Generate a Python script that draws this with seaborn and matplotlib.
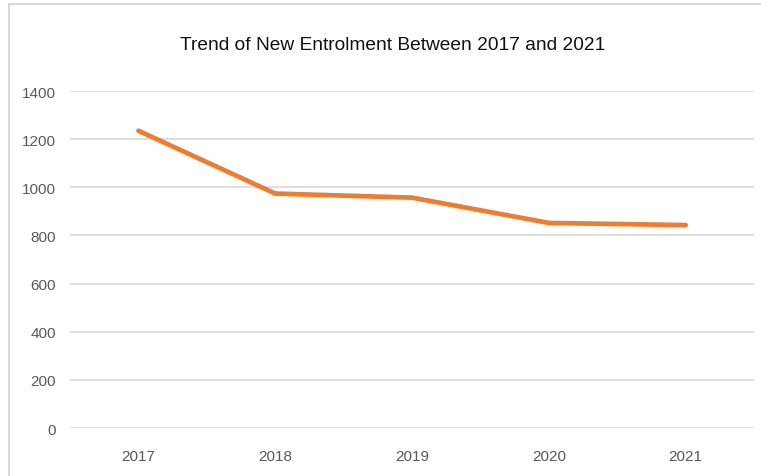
import matplotlib
matplotlib.use("Agg")
import matplotlib.pyplot as plt
import seaborn as sns
import pandas as pd
from matplotlib.patches import Rectangle

years = ["2017", "2018", "2019", "2020", "2021"]
entrolment = [1235, 974, 957, 852, 843]
y_ticks = [0, 200, 400, 600, 800, 1000, 1200, 1400]

sns.set_style("white")
plt.rcParams['font.family'] = ['Liberation Sans Narrow', 'Liberation Sans', 'DejaVu Sans']

df = pd.DataFrame({"Year": years, "Entrolment": entrolment})

fig = plt.figure(figsize=(7.61, 4.77), dpi=100)
ax = fig.add_axes([0.092, 0.1006, 0.899, 0.7065])

# Rahmen um das Diagramm (wie in Excel)
fig.patches.append(Rectangle((9 / 761, -0.05), 1.2, 1 - 5 / 477 + 0.05,
                             transform=fig.transFigure, fill=False,
                             edgecolor='#d9d9d9', linewidth=1.5))

sns.lineplot(data=df, x="Year", y="Entrolment", ax=ax, color='#ED7D31',
             linewidth=3.4, solid_capstyle='round', sort=False)

ax.set_xlim(-0.5, len(years) - 0.5)
ax.set_ylim(0, 1400)
ax.set_yticks(y_ticks)
ax.yaxis.grid(True, color='#d9d9d9', linewidth=1.2)
ax.set_axisbelow(True)
for s in ax.spines.values():
    s.set_visible(False)
ax.tick_params(axis='both', length=0, labelsize=11, colors='#595959')
ax.tick_params(axis='x', pad=15)
ax.tick_params(axis='y', pad=10)
ax.set_xlabel("")
ax.set_ylabel("")

fig.text(0.516, 0.905, "Trend of New Entrolment Between 2017 and 2021",
         ha='center', va='center', fontsize=13.8, color='#111111')

fig.savefig("out.png", dpi=100)
